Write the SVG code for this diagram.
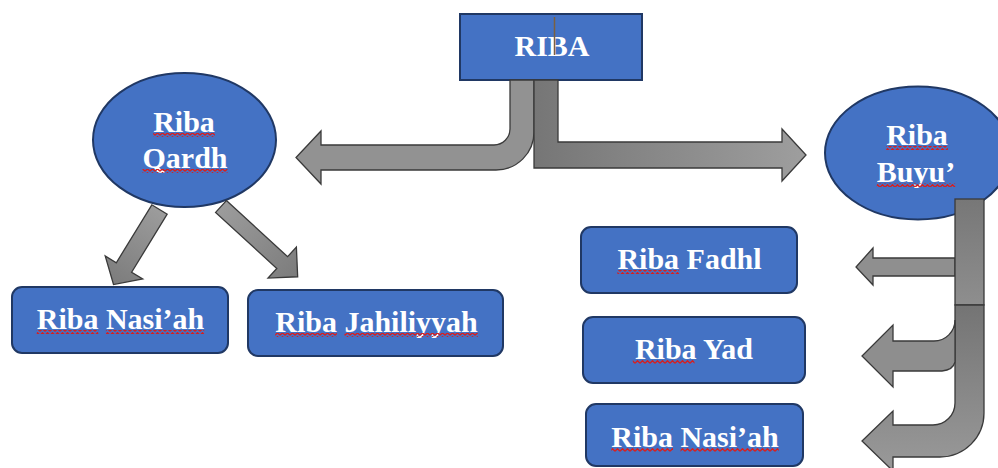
<svg xmlns="http://www.w3.org/2000/svg" width="998" height="468" viewBox="0 0 998 468">
<style>
.box{fill:#4472C4;stroke:#203864;stroke-width:2}
.lbl{font-family:"Liberation Serif","Times New Roman",serif;font-weight:bold;font-size:30px;fill:#ffffff;text-anchor:middle}
.arr{stroke:#3a3a3a;stroke-width:1.3;stroke-linejoin:miter}
.sq{fill:url(#wave)}
</style>
<defs>
<pattern id="wave" patternUnits="userSpaceOnUse" width="5" height="4">
<path d="M0,3.3 L2.5,0.7 L5,3.3" fill="none" stroke="#d81e1e" stroke-width="1.3"/>
</pattern>
<linearGradient id="gR" gradientUnits="userSpaceOnUse" x1="534" y1="0" x2="806" y2="0">
<stop offset="0" stop-color="#767676"/><stop offset="1" stop-color="#9e9e9e"/>
</linearGradient>
<linearGradient id="gQ" x1="0" y1="0" x2="1" y2="0">
<stop offset="0" stop-color="#9c9c9c"/><stop offset="1" stop-color="#7c7c7c"/>
</linearGradient>
<linearGradient id="gS1" x1="0" y1="0" x2="0" y2="1">
<stop offset="0" stop-color="#777777"/><stop offset="1" stop-color="#8e8e8e"/>
</linearGradient>
<linearGradient id="gS2" gradientUnits="userSpaceOnUse" x1="0" y1="305" x2="0" y2="460">
<stop offset="0" stop-color="#747474"/><stop offset="1" stop-color="#979797"/>
</linearGradient>
</defs>

<g id="riba">
<rect class="box" x="460" y="14" width="182" height="66"/>
<text class="lbl" x="552" y="56">RIBA</text>
<line x1="554.5" y1="17" x2="554.5" y2="55" stroke="#7a6040" stroke-width="1.5"/>
</g>

<g id="riba-qardh">
<ellipse class="box" cx="184.5" cy="140" rx="91.5" ry="67"/>
<text class="lbl" x="184" y="132">Riba</text>
<text class="lbl" x="185" y="168">Qardh</text>
<rect class="sq" x="153.2" y="133" width="61.7" height="4"/>
<rect class="sq" x="142.5" y="169" width="85" height="4"/>
</g>

<g id="riba-buyu">
<ellipse class="box" cx="918" cy="153" rx="93" ry="66.5"/>
<text class="lbl" x="917" y="145">Riba</text>
<text class="lbl" x="916" y="182">Buyu’</text>
<rect class="sq" x="886.2" y="146" width="61.7" height="4"/>
<rect class="sq" x="876.8" y="183" width="78.4" height="4"/>
</g>

<g id="riba-nasiah-1">
<rect class="box" x="12" y="287" width="216" height="66" rx="10"/>
<text class="lbl" x="120.5" y="329">Riba Nasi’ah</text>
<rect class="sq" x="36.7" y="330" width="61.7" height="4"/>
<rect class="sq" x="105.9" y="330" width="98.3" height="4"/>
</g>

<g id="riba-jahiliyyah">
<rect class="box" x="248" y="290" width="255" height="66" rx="10"/>
<text class="lbl" x="376.5" y="332">Riba Jahiliyyah</text>
<rect class="sq" x="275.2" y="333" width="61.7" height="4"/>
<rect class="sq" x="344.4" y="333" width="133.4" height="4"/>
</g>

<g id="riba-fadhl">
<rect class="box" x="581" y="227" width="216" height="66" rx="10"/>
<text class="lbl" x="689.5" y="269">Riba Fadhl</text>
<rect class="sq" x="617.4" y="270" width="61.7" height="4"/>
</g>

<g id="riba-yad">
<rect class="box" x="583" y="317" width="222" height="66" rx="10"/>
<text class="lbl" x="694" y="359">Riba Yad</text>
<rect class="sq" x="632.8" y="360" width="61.7" height="4"/>
</g>

<g id="riba-nasiah-2">
<rect class="box" x="586" y="404" width="217" height="62" rx="10"/>
<text class="lbl" x="695" y="447">Riba Nasi’ah</text>
<rect class="sq" x="611.3" y="448" width="61.7" height="4"/>
<rect class="sq" x="680.5" y="448" width="98.3" height="4"/>
</g>

<g id="connectors">
<path class="arr" fill="#929292" d="M510,80 V129 A16,16 0 0 1 494,145 H321 V131 L296,157.5 L321,184 V170 H496 A38,38 0 0 0 534,132 V80 Z"/>
<path class="arr" fill="url(#gR)" d="M534,80 H558 V142 H782 V129 L806,155 L782,181 V168 H534 Z"/>
<polygon class="arr" fill="url(#gQ)" transform="translate(159.5,209.5) rotate(121.5)" points="0,-9 68,-9 68,-22 88,0 68,22 68,9 0,9"/>
<polygon class="arr" fill="url(#gQ)" transform="translate(221,206.5) rotate(42.5)" points="0,-8 83,-8 83,-21 104,0 83,21 83,8 0,8"/>
<path class="arr" fill="#8f8f8f" d="M955,258 H873 V248 L856,267 L873,285 V276 H955 Z"/>
<rect class="arr" fill="url(#gS1)" x="955" y="199" width="29" height="106"/>
<path class="arr" fill="url(#gS2)" d="M955,305 H984 V413 A44,44 0 0 1 940,457 H893 V471 L862,441 L893,411 V425 H933 A22,22 0 0 0 955,403 Z"/>
<path class="arr" fill="#8e8e8e" d="M955,320 A21,21 0 0 1 934,341 H893 V325 L862,356 L893,387 V371 H942 Q953,370 955,362 Z"/>
</g>
</svg>
